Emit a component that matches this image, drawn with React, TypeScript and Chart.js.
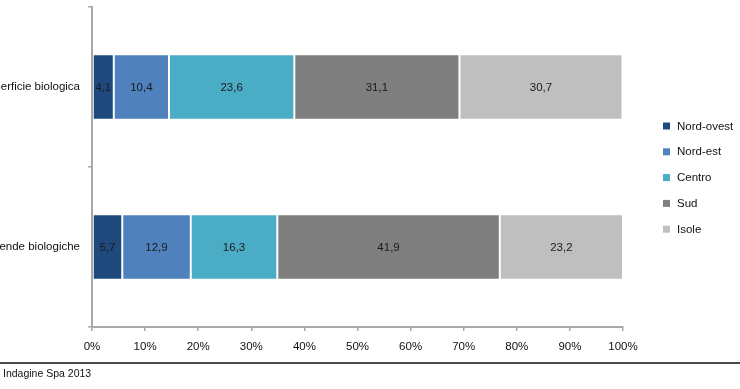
import React, { useEffect, useRef } from "react";
import { Chart, registerables } from "chart.js";

Chart.register(...registerables);

const categories = ["Superficie biologica", "Aziende biologiche"];
const seriesNames = ["Nord-ovest", "Nord-est", "Centro", "Sud", "Isole"];
const nordOvest = [4.1, 5.7];
const nordEst = [10.4, 12.9];
const centro = [23.6, 16.3];
const sud = [31.1, 41.9];
const isole = [30.7, 23.2];
const xTicks = [0, 10, 20, 30, 40, 50, 60, 70, 80, 90, 100];
const sourceText = "Indagine Spa 2013";

const colors = ["#1F497D", "#4F81BD", "#4BACC6", "#7F7F7F", "#BFBFBF"];
const FONT = "'Liberation Sans', Arial, sans-serif";

const valueLabels = {
  id: "valueLabels",
  afterDatasetsDraw(chart: any) {
    const ctx = chart.ctx;
    ctx.save();
    ctx.font = `11.5px ${FONT}`;
    ctx.fillStyle = "#1a1a1a";
    ctx.textAlign = "center";
    ctx.textBaseline = "middle";
    chart.data.datasets.forEach((ds: any, di: number) => {
      const meta = chart.getDatasetMeta(di);
      meta.data.forEach((bar: any, i: number) => {
        const v = ds.data[i];
        const cx = (bar.x + bar.base) / 2;
        ctx.fillText(String(v).replace(".", ","), cx, bar.y + 1);
      });
    });
    ctx.restore();
  },
};

const customLegend = {
  id: "customLegend",
  afterDraw(chart: any) {
    const ctx = chart.ctx;
    const x0 = chart.chartArea.right + 40;
    const y0 = 126;
    const step = 25.8;
    ctx.save();
    ctx.font = `11.5px ${FONT}`;
    ctx.textAlign = "left";
    ctx.textBaseline = "middle";
    chart.data.datasets.forEach((ds: any, i: number) => {
      const y = y0 + i * step;
      ctx.fillStyle = ds.backgroundColor;
      ctx.fillRect(x0, y - 3.5, 7, 7);
      ctx.fillStyle = "#111";
      ctx.fillText(ds.label, x0 + 14, y + 0.5);
    });
    ctx.restore();
  },
};

export default function App() {
  const ref = useRef<HTMLCanvasElement>(null);
  useEffect(() => {
    const seriesData = [nordOvest, nordEst, centro, sud, isole];
    const chart = new Chart(ref.current as HTMLCanvasElement, {
      type: "bar",
      data: {
        labels: categories,
        datasets: seriesNames.map((name, i) => ({
          label: name,
          data: seriesData[i],
          backgroundColor: colors[i],
          borderColor: "rgba(255,255,255,0.55)",
          borderWidth: 1,
          borderSkipped: false,
          barPercentage: 0.41,
          categoryPercentage: 1,
        })),
      },
      options: {
        indexAxis: "y",
        animation: false,
        responsive: true,
        maintainAspectRatio: false,
        layout: { padding: { top: 7, left: 0, right: 117, bottom: 32 } },
        plugins: { legend: { display: false }, tooltip: { enabled: false } },
        scales: {
          x: {
            stacked: true,
            min: 0,
            max: 100,
            afterBuildTicks: (s: any) => {
              s.ticks = xTicks.map((v) => ({ value: v }));
            },
            afterFit: (s: any) => {
              s.height = 30;
            },
            grid: {
              drawOnChartArea: false,
              drawTicks: true,
              tickLength: 4,
              color: "#a8a8a8",
              lineWidth: 1.5,
            },
            border: { display: true, color: "#a8a8a8", width: 2 },
            ticks: {
              padding: 9,
              color: "#111",
              font: { family: FONT, size: 11.5 },
              maxRotation: 0,
              autoSkip: false,
              callback: (v: any) => `${v}%`,
            },
          },
          y: {
            stacked: true,
            afterFit: (s: any) => {
              s.width = 92;
              s.paddingTop = 0;
              s.paddingBottom = 0;
            },
            grid: {
              drawOnChartArea: false,
              drawTicks: true,
              tickLength: 4,
              color: "#a8a8a8",
              lineWidth: 1.5,
              offset: true,
            },
            border: { display: true, color: "#a8a8a8", width: 2 },
            ticks: {
              padding: 8,
              color: "#111",
              font: { family: FONT, size: 11.5 },
            },
          },
        },
      },
      plugins: [valueLabels, customLegend],
    });
    return () => chart.destroy();
  }, []);

  return (
    <div style={{ position: "fixed", left: 0, top: 0, width: 740, height: 389, background: "#fff" }}>
      <canvas ref={ref} />
      <div
        style={{
          position: "absolute",
          left: 0,
          top: 362,
          width: 740,
          height: 0,
          borderTop: "2px solid #4a4a4a",
        }}
      />
      <div
        style={{
          position: "absolute",
          left: 3,
          top: 366,
          fontFamily: FONT,
          fontSize: 10.5,
          color: "#111",
          lineHeight: "14px",
        }}
      >
        {sourceText}
      </div>
    </div>
  );
}
